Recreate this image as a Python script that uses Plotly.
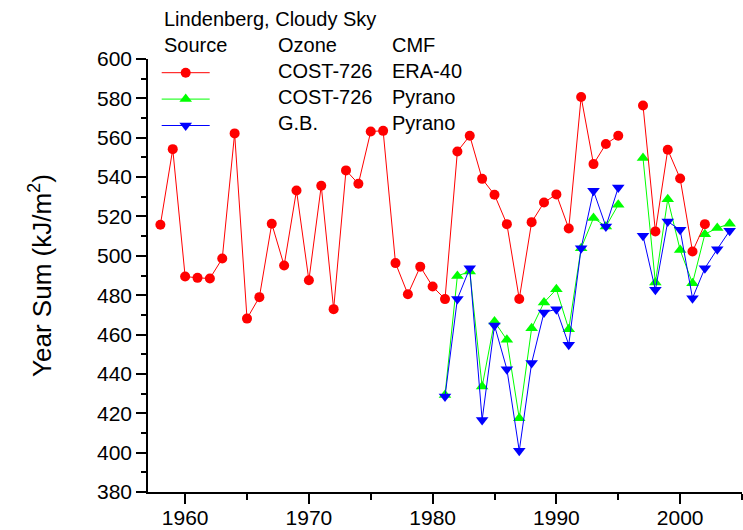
import plotly.graph_objects as go

# ---- data ----
years_era = list(range(1958, 2003))
cost_era40 = [515.8, 554.2, 489.5, 488.8, 488.5, 498.6, 562.2, 468.1, 479.0, 516.3,
              495.1, 533.2, 487.6, 535.6, 472.9, 543.4, 536.6, 563.2, 563.5, 496.3,
              480.5, 494.5, 484.4, 478.0, 553.0, 561.0, 539.1, 531.0, 516.1, 478.1,
              517.1, 527.1, 531.2, 513.9, 580.7, 546.6, 556.8, 561.0, None, 576.4,
              512.4, 553.9, 539.3, 502.2, 516.1]

years_pyr = list(range(1981, 2005))
cost_pyrano = [429.3, 489.8, 492.0, 433.6, 466.6, 457.3, 417.5, 463.2, 476.3, 483.0,
               462.7, 503.9, 519.2, 514.9, 525.9, None, 549.7, 486.4, 528.8, 503.0,
               486.1, 511.0, 514.1, 516.3]
gb_pyrano = [428.5, 478.1, 493.7, 416.6, 464.6, 442.4, 400.9, 445.5, 471.2, 472.9,
             454.8, 503.9, 533.0, 514.9, 534.7, None, 510.2, 482.7, 517.4, 513.2,
             478.5, 493.7, 503.4, 512.7]

x_ticks = [1960, 1970, 1980, 1990, 2000]
y_ticks = list(range(380, 601, 20))

legend_title = "Lindenberg, Cloudy Sky"
legend_header = ["Source", "Ozone", "CMF"]
legend_rows = [("COST-726", "ERA-40"), ("COST-726", "Pyrano"), ("G.B.", "Pyrano")]

FONT = "Arial, 'Liberation Sans', sans-serif"

fig = go.Figure()
fig.add_trace(go.Scatter(
    x=years_pyr, y=cost_pyrano, mode="lines+markers", name="",
    line=dict(color="#00ff00", width=1),
    marker=dict(symbol="triangle-up", size=11, color="#00ff00"),
    legendrank=2, connectgaps=False))
fig.add_trace(go.Scatter(
    x=years_pyr, y=gb_pyrano, mode="lines+markers", name="",
    line=dict(color="#0000ff", width=1),
    marker=dict(symbol="triangle-down", size=11, color="#0000ff"),
    legendrank=3, connectgaps=False))
fig.add_trace(go.Scatter(
    x=years_era, y=cost_era40, mode="lines+markers", name="",
    line=dict(color="#ff0000", width=1),
    marker=dict(symbol="circle", size=10, color="#ff0000"),
    legendrank=1, connectgaps=False))

L, R, T, B = 148, 1, 59, 38
W, H = 743, 530
pw, ph = W - L - R, H - T - B


def px(xp):
    return (xp - L) / pw


def py(yp):
    return (H - B - yp) / ph


ann = []
tf = dict(family=FONT, size=20, color="black")
ann.append(dict(text=legend_title, x=px(162), y=py(19.5)))
cols = [162, 276, 389.5]
for c, t in zip(cols, legend_header):
    ann.append(dict(text=t, x=px(c), y=py(45)))
rows_y = [70.5, 97, 123.5]
for (oz, cmf), yy in zip(legend_rows, rows_y):
    ann.append(dict(text=oz, x=px(cols[1]), y=py(yy)))
    ann.append(dict(text=cmf, x=px(cols[2]), y=py(yy)))
annotations = [dict(a, xref="paper", yref="paper", xanchor="left", yanchor="middle",
                    showarrow=False, font=tf) for a in ann]

fig.update_layout(
    width=W, height=H,
    margin=dict(l=L, r=R, t=T, b=B, pad=0, autoexpand=False),
    paper_bgcolor="white", plot_bgcolor="white",
    font=dict(family=FONT, color="black", size=21),
    showlegend=True,
    legend=dict(x=px(156.7), y=py(54.5), xanchor="left", yanchor="top",
                bgcolor="rgba(0,0,0,0)", borderwidth=0,
                font=dict(family=FONT, size=18), itemwidth=48,
                traceorder="normal", tracegroupgap=0),
    annotations=annotations,
    xaxis=dict(range=[1957, 2005], tickvals=x_ticks, ticks="outside", ticklen=10,
               tickwidth=1.5, tickcolor="black", showline=True, linecolor="black",
               linewidth=1.5, showgrid=False, zeroline=False, mirror=False,
               automargin=False, tickfont=dict(family=FONT, size=21),
               ticklabelstandoff=-4,
               minor=dict(dtick=5, tick0=1955, ticks="outside", ticklen=6,
                          tickwidth=1.5, tickcolor="black", showgrid=False)),
    yaxis=dict(range=[380, 600], tickvals=y_ticks, ticks="outside", ticklen=10,
               tickwidth=1.5, tickcolor="black", showline=True, linecolor="black",
               linewidth=1.5, showgrid=False, zeroline=False, mirror=False,
               automargin=False, tickfont=dict(family=FONT, size=21),
               title=dict(text="Year Sum (kJ/m<sup>2</sup>)",
                          font=dict(family=FONT, size=26), standoff=38),
               minor=dict(dtick=10, tick0=380, ticks="outside", ticklen=5,
                          tickwidth=1.5, tickcolor="black", showgrid=False)),
)

fig.write_html("out.html", config={"displayModeBar": False},
               post_script="document.body.style.margin='0';"
                           "document.body.style.overflow='hidden';")
